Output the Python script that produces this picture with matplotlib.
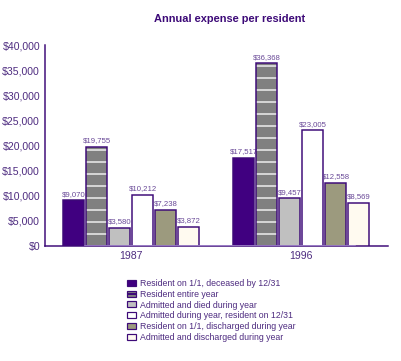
import matplotlib
matplotlib.use("Agg")
import matplotlib.pyplot as plt
import numpy as np
from matplotlib.patches import Patch
from matplotlib.ticker import FuncFormatter, MultipleLocator

years = ["1987", "1996"]
series = [
    "Resident on 1/1, deceased by 12/31",
    "Resident entire year",
    "Admitted and died during year",
    "Admitted during year, resident on 12/31",
    "Resident on 1/1, discharged during year",
    "Admitted and discharged during year",
]
values = [
    [9070, 17517],
    [19755, 36368],
    [3580, 9457],
    [10212, 23005],
    [7238, 12558],
    [3872, 8569],
]
face_colors = ["#400080", "#808080", "#c0c0c0", "#ffffff", "#9c9a7e", "#fffaf0"]
hatches = [None, "-", None, None, None, None]

PURPLE = "#3d0a78"
TXT = "#4e2c80"
LBL = "#6a4a98"

plt.rcParams["font.family"] = ["Liberation Sans", "DejaVu Sans"]
plt.rcParams["hatch.linewidth"] = 2.0

fig = plt.figure(figsize=(401 / 72, 361 / 72), dpi=72)
ax = fig.add_axes([0.1122, 0.3186, 0.8554, 0.5567])

x = np.arange(len(years))
width = 0.124
step = 0.135
n = len(series)
for i, (vals, fc, h) in enumerate(zip(values, face_colors, hatches)):
    pos = x + (i - (n - 1) / 2) * step
    if h:
        ax.bar(pos, vals, width, color=fc, hatch=h, edgecolor="#d4d4d4", linewidth=0, zorder=2)
        ax.bar(pos, vals, width, fill=False, edgecolor=PURPLE, linewidth=1.5, zorder=3)
    else:
        ax.bar(pos, vals, width, color=fc, edgecolor=PURPLE, linewidth=1.5, zorder=3)
    for p, v in zip(pos, vals):
        ax.text(p, v + 500, f"${v:,}", ha="center", va="bottom", fontsize=7.8, color=LBL)

ax.set_xlim(-0.506, 1.51)
ax.set_ylim(0, 40000)
ax.yaxis.set_major_locator(MultipleLocator(5000))
ax.yaxis.set_major_formatter(FuncFormatter(lambda v, p: f"${int(v):,}"))
ax.set_xticks(x)
ax.set_xticklabels(years)
ax.tick_params(axis="both", length=0, labelsize=10.5, labelcolor=TXT)
ax.tick_params(axis="y", pad=5)
ax.tick_params(axis="x", pad=5)
for s in ["top", "right"]:
    ax.spines[s].set_visible(False)
for s in ["left", "bottom"]:
    ax.spines[s].set_color(PURPLE)
    ax.spines[s].set_linewidth(1.5)
ax.axhline(0, xmin=0.117, xmax=0.904, color="#a58ad0", linewidth=1.6, zorder=4)
ax.patch.set_alpha(0)

fig.text(230 / 401, 1 - 19 / 361, "Annual expense per resident", ha="center", va="center",
         fontsize=11, fontweight="bold", color=PURPLE)

handles = []
for lbl, fc, h in zip(series, face_colors, hatches):
    handles.append(Patch(facecolor=fc, edgecolor=PURPLE, linewidth=1.2, hatch=h, label=lbl))
leg = fig.legend(handles=handles, loc="upper left", bbox_to_anchor=(127 / 401, 1 - 279 / 361),
                 frameon=False, fontsize=8.8, handlelength=1.0, handleheight=0.65,
                 handletextpad=0.5, labelspacing=0.2, borderaxespad=0, borderpad=0)
for t in leg.get_texts():
    t.set_color(TXT)

fig.savefig("out.png", dpi=72)
